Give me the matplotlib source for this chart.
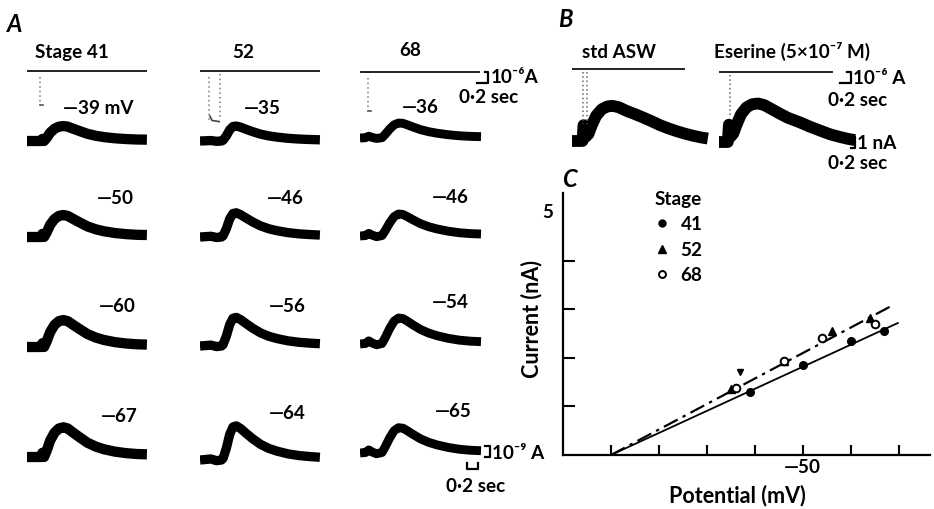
import matplotlib
matplotlib.use("Agg")
import matplotlib.pyplot as plt
from matplotlib.lines import Line2D

plt.rcParams['font.family'] = ['Lato', 'DejaVu Sans']
plt.rcParams['font.weight'] = 'bold'
plt.rcParams['mathtext.default'] = 'regular'

W, H, DPI = 934, 509, 100
PX_PER_S = 55.0     # 0.2 sec scale bar = 11 px
PX_PER_NA = 11.0    # 1 nA scale bar = 11 px
FS = 13.6           # panel A/B text size
FS_C = 15.5         # panel C text size
DASH = "\u2014"

# ---------------- data ----------------
# Panel A: columns = developmental stage, rows = holding potential
stage_titles = ["Stage 41", "52", "68"]
holding_labels = [[DASH + "39 mV", DASH + "50", DASH + "60", DASH + "67"],
                  [DASH + "35", DASH + "46", DASH + "56", DASH + "64"],
                  [DASH + "36", DASH + "46", DASH + "54", DASH + "65"]]
peak_nA = [[1.36, 2.0, 2.45, 2.7],
           [1.36, 2.2, 2.6, 3.1],
           [1.36, 2.0, 2.36, 2.3]]

# normalised current waveforms (time in s)
t41 = [0, 0.26, 0.28, 0.31, 0.36, 0.42, 0.50, 0.58, 0.66, 0.74, 0.84, 0.96,
       1.10, 1.25, 1.40, 1.60, 1.80, 2.00, 2.18]
s41 = [0, 0, 0.14, 0.0, 0.22, 0.55, 0.82, 0.96, 1.0, 0.96, 0.82, 0.66,
       0.48, 0.35, 0.26, 0.18, 0.13, 0.10, 0.09]
t52 = [0, 0.20, 0.30, 0.39, 0.42, 0.48, 0.54, 0.60, 0.66, 0.74, 0.84, 0.96,
       1.10, 1.25, 1.40, 1.60, 1.80, 2.00, 2.18]
s52 = [0, 0.03, -0.02, 0, 0.05, 0.35, 0.75, 0.97, 1.0, 0.92, 0.78, 0.62,
       0.46, 0.34, 0.26, 0.18, 0.13, 0.10, 0.08]
t68 = [0, 0.10, 0.16, 0.22, 0.30, 0.40, 0.46, 0.54, 0.62, 0.70, 0.78, 0.86,
       0.96, 1.10, 1.25, 1.40, 1.60, 1.80, 2.00, 2.20]
s68 = [0, 0.02, 0.12, 0.04, -0.03, 0.02, 0.25, 0.60, 0.88, 1.0, 0.98, 0.88,
       0.74, 0.56, 0.42, 0.32, 0.22, 0.15, 0.11, 0.09]
waveforms_A = [(t41, s41), (t52, s52), (t68, s68)]

# Panel B: std ASW vs eserine
B_titles = ["std ASW", "Eserine (5\u00d710\u207b\u2077 M)"]
B_peak_nA = [3.2, 3.5]
tB_std = [0, 0.19, 0.21, 0.25, 0.30, 0.36, 0.44, 0.54, 0.64, 0.73, 0.85,
          1.00, 1.15, 1.29, 1.45, 1.60, 1.75, 1.90, 2.05, 2.20, 2.35, 2.47]
sB_std = [0, 0, 0.45, 0.12, 0.2, 0.45, 0.72, 0.9, 0.98, 1.0, 0.96,
          0.85, 0.76, 0.67, 0.56, 0.45, 0.36, 0.28, 0.21, 0.15, 0.10, 0.07]
tB_ese = [0, 0.16, 0.18, 0.22, 0.26, 0.32, 0.40, 0.50, 0.60, 0.71, 0.82,
          0.95, 1.10, 1.25, 1.47, 1.65, 1.85, 2.02, 2.20, 2.35, 2.47]
sB_ese = [0, 0, 0.45, 0.15, 0.22, 0.45, 0.72, 0.9, 0.98, 1.0, 0.96,
          0.86, 0.74, 0.63, 0.51, 0.40, 0.29, 0.20, 0.13, 0.08, 0.05]
waveforms_B = [(tB_std, sB_std), (tB_ese, sB_ese)]

# Panel C: synaptic current vs holding potential
V41 = [-39, -50, -60, -67]
I41 = [1.30, 1.86, 2.35, 2.56]
V52 = [-35, -46, -56, -64]
I52 = [1.36, 1.94, 2.56, 2.82]
V68 = [-36, -46, -54, -65]
I68 = [1.38, 1.93, 2.41, 2.70]
fit41_V = [-10, -69.8]
fit41_I = [0, 2.72]
fit5268_V = [-10, -68.8]
fit5268_I = [0, 3.09]
stray_V = [-36.8]
stray_I = [1.71]
x_ticks = [-10, -20, -30, -40, -50, -60, -70]
x_ticklabels = ["", "", "", "", DASH + "50", "", ""]
y_ticks = [1, 2, 3, 4]

# ---------------- layout ----------------
fig = plt.figure(figsize=(W / DPI, H / DPI), dpi=DPI)
fig.patch.set_facecolor('white')

art = fig.add_axes([0, 0, 1, 1])
art.set_xlim(0, W)
art.set_ylim(H, 0)
art.axis('off')


def data_axes(x0, y0, tmax, lo, hi, px_per_unit=PX_PER_NA):
    """axes whose (t=0, value=0) point sits at pixel (x0, y0)."""
    top = y0 - hi * px_per_unit
    h = (hi - lo) * px_per_unit
    w = tmax * PX_PER_S
    ax = fig.add_axes([x0 / W, 1 - (top + h) / H, w / W, h / H])
    ax.set_xlim(0, tmax)
    ax.set_ylim(lo, hi)
    ax.axis('off')
    return ax


def txt(x, y, s, size=FS, **kw):
    art.text(x, y, s, fontsize=size, fontweight='bold', va='baseline',
             ha='left', color='black', **kw)


# panel letters
txt(7, 32, "A", size=17, style='italic')
txt(558, 27, "B", size=17, style='italic')
txt(562, 187, "C", size=17, style='italic')

# Panel A traces
col_x0 = [27, 200, 360]
row_base = [[141, 237, 347, 457], [141, 237, 346, 460], [138, 236, 344, 453]]
col_lw = [7.4, 6.7, 6.4]
label_pos = [[(63, 114), (97, 204), (99, 312), (101, 422)],
             [(244, 114), (267, 204), (269, 312), (269, 419)],
             [(402, 113), (432, 203), (432, 308), (435, 417)]]
title_pos = [(35, 58), (232, 58), (399, 56)]

trace_axes = {}
for c in range(3):
    tt, ss = waveforms_A[c]
    txt(*title_pos[c], stage_titles[c])
    for r in range(4):
        ax = data_axes(col_x0[c], row_base[c][r], 2.45, -2.0, 4.0)
        ax.plot(tt, [v * peak_nA[c][r] for v in ss], color='black',
                lw=col_lw[c], solid_capstyle='butt', solid_joinstyle='round')
        trace_axes[(c, r)] = ax
        txt(*label_pos[c][r], holding_labels[c][r])

# command current (top row of A), units uA, 11 px per uA
stim_line_y = [71, 71, 72]
stim_on = [0.24, 0.16, 0.15]
stim_off = [None, 0.37, None]
stim_depth = [3.1, 4.6, 3.5]
for c in range(3):
    sa = data_axes(col_x0[c], stim_line_y[c], 2.45, -6, 1)
    sa.plot([0, 2.16], [0, 0], color='#222222', lw=1.4)
    sa.plot([stim_on[c], stim_on[c]], [-0.5, -stim_depth[c]], color='#777777',
            lw=1.1, ls=(0, (1, 2)))
    if stim_off[c] is not None:
        sa.plot([stim_off[c], stim_off[c]], [-0.3, -stim_depth[c] + 0.3],
                color='#777777', lw=1.1, ls=(0, (1, 2)))
        sa.plot([stim_on[c] + 0.02, stim_on[c] + 0.06, stim_off[c] - 0.02],
                [-stim_depth[c] + 0.5, -stim_depth[c] + 0.1, -stim_depth[c]],
                color='#444444', lw=1.2)
    else:
        sa.plot([stim_on[c], stim_on[c] + 0.05], [-stim_depth[c], -stim_depth[c]],
                color='#555555', lw=1.2)
    if c == 2:
        # 10^-6 A / 0.2 sec scale bar
        sa.plot([2.13, 2.33, 2.33, 2.27], [-1, -1, 0, 0], color='black', lw=1.6,
                clip_on=False)
txt(491, 83, "10\u207b\u2076A")
txt(459, 103, "0\u00b72 sec")

# 10^-9 A / 0.2 sec scale bars under the last A trace
ax = trace_axes[(2, 3)]
ax.plot([2.28, 2.36, 2.36, 2.28], [0.68, 0.68, -0.35, -0.35], color='black',
        lw=1.6, clip_on=False)
ax.plot([1.95, 1.95, 2.15, 2.15], [-0.95, -1.45, -1.45, -0.95], color='black',
        lw=1.6, clip_on=False)
txt(492, 459, "10\u207b\u2079 A")
txt(446, 492, "0\u00b72 sec")

# Panel B
B_x0 = [572, 719]
B_base = [141, 142]
B_stim_y = [69, 72]
B_title_pos = [(582, 58), (714, 58)]
B_stim_on = [[0.20, 0.27], [0.20]]
B_stim_depth = [5.0, 3.9]
B_stim_end = [2.03, 2.06]
for i in range(2):
    tt, ss = waveforms_B[i]
    ax = data_axes(B_x0[i], B_base[i], 2.6, -2.0, 4.5)
    ax.plot(tt, [v * B_peak_nA[i] for v in ss], color='black', lw=8.5,
            solid_capstyle='butt', solid_joinstyle='round')
    txt(*B_title_pos[i], B_titles[i])
    sa = data_axes(B_x0[i], B_stim_y[i], 2.6, -6, 1)
    sa.plot([0, B_stim_end[i]], [0, 0], color='#222222', lw=1.4)
    for ton in B_stim_on[i]:
        sa.plot([ton, ton], [-0.3, -B_stim_depth[i]], color='#666666', lw=1.1,
                ls=(0, (1, 1.8)))
    if i == 1:
        sa.plot([2.20, 2.40, 2.40, 2.33], [-1, -1, 0, 0], color='black', lw=1.6,
                clip_on=False)
        ax.plot([2.40, 2.47, 2.47, 2.40], [0.45, 0.45, -0.55, -0.55],
                color='black', lw=1.6, clip_on=False)
txt(853, 84, "10\u207b\u2076 A")
txt(828, 106, "0\u00b72 sec")
txt(857, 149, "1 nA")
txt(828, 169, "0\u00b72 sec")

# Panel C
axc = fig.add_axes([563 / W, 1 - 455 / H, (930 - 563) / W, (455 - 193) / H])
axc.set_xlim(0, -76.5)
axc.set_ylim(0, 5.4)
for s in ['top', 'right']:
    axc.spines[s].set_visible(False)
for s in ['left', 'bottom']:
    axc.spines[s].set_linewidth(1.6)
axc.set_xticks(x_ticks)
axc.set_xticklabels(x_ticklabels)
axc.set_yticks(y_ticks)
axc.set_yticklabels([])
axc.tick_params(axis='x', direction='in', length=7, width=1.5, pad=3,
                labelsize=FS)
axc.tick_params(axis='y', direction='in', length=8.5, width=1.5)
axc.text(-0.0, 5.0, "5  ", ha='right', va='center', fontsize=FS,
         fontweight='bold')
axc.set_xlabel("Potential (mV)", fontsize=FS_C, fontweight='bold')
axc.xaxis.set_label_coords(0.475, -0.115)
axc.set_ylabel("Current (nA)", fontsize=FS_C, fontweight='bold')
axc.yaxis.set_label_coords(-0.055, 0.52)

axc.plot(fit41_V, fit41_I, color='black', lw=1.3)
axc.plot(fit5268_V, fit5268_I, color='black', lw=1.6,
         ls=(0, (7, 2.5, 1.5, 2.5)))
axc.plot(V41, I41, 'o', color='black', ms=5.5)
axc.plot(V52, I52, '^', color='black', ms=6)
axc.plot(V68, I68, 'o', mfc='white', mec='black', mew=1.4, ms=5.5)
axc.plot(stray_V, stray_I, 'v', color='black', ms=4.5)
for lbl in axc.get_xticklabels():
    lbl.set_fontweight('bold')

handles = [Line2D([], [], ls='none', marker='o', color='black', ms=5),
           Line2D([], [], ls='none', marker='^', color='black', ms=5.5),
           Line2D([], [], ls='none', marker='o', mfc='white', mec='black',
                  mew=1.4, ms=5)]
leg = axc.legend(handles, ["41", "52", "68"], title="Stage", frameon=False,
                 loc='upper left', bbox_to_anchor=((641 - 563) / 367, 1.06),
                 fontsize=FS, title_fontsize=FS, handlelength=0.8,
                 handletextpad=0.6, labelspacing=0.45, borderpad=0.2,
                 alignment='left')
leg.get_title().set_fontweight('bold')
for t in leg.get_texts():
    t.set_fontweight('bold')

fig.savefig("out.png", dpi=DPI, facecolor='white')
